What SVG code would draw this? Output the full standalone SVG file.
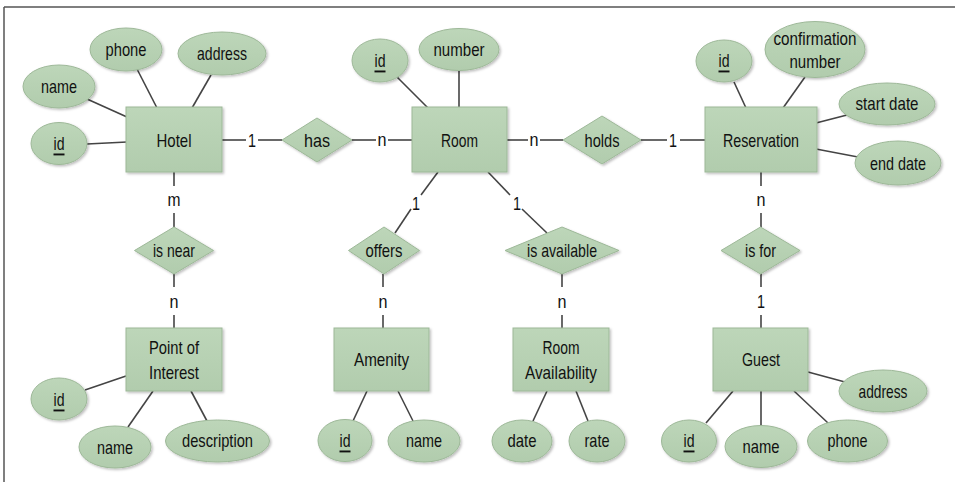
<svg xmlns="http://www.w3.org/2000/svg" width="955" height="482" viewBox="0 0 955 482">
<defs>
<linearGradient id="g" x1="0" y1="0" x2="0" y2="1">
<stop offset="0" stop-color="#bdd6b9"/>
<stop offset="1" stop-color="#b1ccad"/>
</linearGradient>
<filter id="sh" x="-10%" y="-10%" width="130%" height="130%">
<feDropShadow dx="1.5" dy="1.5" stdDeviation="1" flood-color="#000" flood-opacity="0.25"/>
</filter>
<style>
.e,.r,.d{fill:url(#g);stroke:#9db898;stroke-width:1;filter:url(#sh)}
.c line{stroke:#444;stroke-width:1.6}
text{font-family:"Liberation Sans",Arial,sans-serif;font-size:19px;fill:#111;text-anchor:middle;dominant-baseline:central}
.u{text-decoration:underline}
</style>
</defs>
<rect width="955" height="482" fill="#fff"/>
<g id="frame" stroke="#555" stroke-width="1.5" fill="none">
<line x1="4" y1="7" x2="955" y2="7"/>
<line x1="4" y1="7" x2="4" y2="482"/>
</g>
<g class="c" id="connectors">
<line x1="222" y1="140" x2="246" y2="140"/><line x1="258" y1="140" x2="282" y2="140"/>
<line x1="352" y1="140" x2="376" y2="140"/><line x1="388" y1="140" x2="412" y2="140"/>
<line x1="507" y1="140" x2="528" y2="140"/><line x1="540" y1="140" x2="563" y2="140"/>
<line x1="641" y1="140" x2="667" y2="140"/><line x1="680" y1="140" x2="705" y2="140"/>
<line x1="174" y1="172" x2="174" y2="186"/><line x1="174" y1="213" x2="174" y2="227"/>
<line x1="174" y1="274" x2="174" y2="287"/><line x1="174" y1="315" x2="174" y2="328"/>
<line x1="761" y1="172" x2="761" y2="186"/><line x1="761" y1="213" x2="761" y2="227"/>
<line x1="761" y1="274" x2="761" y2="287"/><line x1="761" y1="315" x2="761" y2="328"/>
<line x1="383" y1="274" x2="383" y2="287"/><line x1="383" y1="315" x2="383" y2="328"/>
<line x1="562" y1="274" x2="562" y2="287"/><line x1="562" y1="315" x2="562" y2="328"/>
<line x1="438" y1="172" x2="421" y2="195"/><line x1="411" y1="209" x2="395" y2="233"/>
<line x1="488" y1="172" x2="510" y2="195"/><line x1="522" y1="209" x2="547" y2="233"/>
<line x1="137" y1="69" x2="157" y2="108"/>
<line x1="211" y1="75" x2="192" y2="108"/>
<line x1="87" y1="99" x2="127" y2="117"/>
<line x1="87" y1="144" x2="127" y2="142"/>
<line x1="397" y1="77" x2="428" y2="108"/>
<line x1="459" y1="71" x2="459" y2="107"/>
<line x1="734" y1="82" x2="746" y2="108"/>
<line x1="805" y1="77" x2="783" y2="108"/>
<line x1="816" y1="123" x2="847" y2="115"/>
<line x1="816" y1="149" x2="858" y2="157"/>
<line x1="85" y1="390" x2="126" y2="376"/>
<line x1="128" y1="427" x2="153" y2="391"/>
<line x1="207" y1="421" x2="191" y2="391"/>
<line x1="353" y1="421" x2="367" y2="391"/>
<line x1="413" y1="421" x2="398" y2="391"/>
<line x1="533" y1="421" x2="547" y2="391"/>
<line x1="588" y1="421" x2="576" y2="391"/>
<line x1="808" y1="372" x2="845" y2="382"/>
<line x1="706" y1="423" x2="733" y2="391"/>
<line x1="761" y1="391" x2="761" y2="426"/>
<line x1="828" y1="423" x2="794" y2="391"/>
</g>
<g id="labels">
<text x="252" y="140" textLength="8" lengthAdjust="spacingAndGlyphs">1</text>
<text x="382" y="139" textLength="9" lengthAdjust="spacingAndGlyphs">n</text>
<text x="534" y="139" textLength="9" lengthAdjust="spacingAndGlyphs">n</text>
<text x="673" y="140" textLength="8" lengthAdjust="spacingAndGlyphs">1</text>
<text x="174" y="199" textLength="13" lengthAdjust="spacingAndGlyphs">m</text>
<text x="174" y="301" textLength="9" lengthAdjust="spacingAndGlyphs">n</text>
<text x="416" y="203" textLength="8" lengthAdjust="spacingAndGlyphs">1</text>
<text x="517" y="203" textLength="8" lengthAdjust="spacingAndGlyphs">1</text>
<text x="383" y="301" textLength="9" lengthAdjust="spacingAndGlyphs">n</text>
<text x="562" y="301" textLength="9" lengthAdjust="spacingAndGlyphs">n</text>
<text x="761" y="199" textLength="9" lengthAdjust="spacingAndGlyphs">n</text>
<text x="761" y="301" textLength="8" lengthAdjust="spacingAndGlyphs">1</text>
</g>
<g id="hotel"><rect class="r" x="126" y="107" width="96" height="65"/><text x="174" y="140" textLength="35" lengthAdjust="spacingAndGlyphs">Hotel</text></g>
<g id="hotel-phone"><ellipse class="e" cx="126" cy="49.5" rx="36" ry="21.5"/><text x="126" y="49" textLength="41" lengthAdjust="spacingAndGlyphs">phone</text></g>
<g id="hotel-address"><ellipse class="e" cx="222" cy="53.5" rx="44" ry="21.5"/><text x="222" y="53" textLength="50" lengthAdjust="spacingAndGlyphs">address</text></g>
<g id="hotel-name"><ellipse class="e" cx="59" cy="86.5" rx="36" ry="21.5"/><text x="59" y="86" textLength="36" lengthAdjust="spacingAndGlyphs">name</text></g>
<g id="hotel-id"><ellipse class="e" cx="59" cy="143.5" rx="28" ry="21"/><text class="u" x="59" y="143" textLength="11" lengthAdjust="spacingAndGlyphs">id</text></g>
<g id="has"><polygon class="d" points="282,140 317,118 352,140 317,162"/><text x="317" y="140" textLength="26" lengthAdjust="spacingAndGlyphs">has</text></g>
<g id="room"><rect class="r" x="412" y="107" width="95" height="65"/><text x="459.5" y="140" textLength="37" lengthAdjust="spacingAndGlyphs">Room</text></g>
<g id="room-id"><ellipse class="e" cx="380" cy="60.5" rx="28" ry="21.5"/><text class="u" x="380" y="60" textLength="11" lengthAdjust="spacingAndGlyphs">id</text></g>
<g id="room-number"><ellipse class="e" cx="459" cy="49.5" rx="40" ry="21"/><text x="459" y="49" textLength="51" lengthAdjust="spacingAndGlyphs">number</text></g>
<g id="holds"><polygon class="d" points="563,140 602,116 641,140 602,164"/><text x="602" y="140" textLength="35" lengthAdjust="spacingAndGlyphs">holds</text></g>
<g id="reservation"><rect class="r" x="705" y="107" width="112" height="65"/><text x="761" y="140" textLength="76" lengthAdjust="spacingAndGlyphs">Reservation</text></g>
<g id="res-id"><ellipse class="e" cx="724" cy="61" rx="28" ry="21"/><text class="u" x="724" y="60" textLength="11" lengthAdjust="spacingAndGlyphs">id</text></g>
<g id="res-confirmation"><ellipse class="e" cx="815" cy="49.5" rx="50" ry="28"/><text x="815" y="38" textLength="83" lengthAdjust="spacingAndGlyphs">confirmation</text><text x="815" y="61.5" textLength="51" lengthAdjust="spacingAndGlyphs">number</text></g>
<g id="res-start"><ellipse class="e" cx="887" cy="104" rx="48" ry="21"/><text x="887" y="103" textLength="63" lengthAdjust="spacingAndGlyphs">start date</text></g>
<g id="res-end"><ellipse class="e" cx="898" cy="163" rx="43" ry="22"/><text x="898" y="163" textLength="56" lengthAdjust="spacingAndGlyphs">end date</text></g>
<g id="is-near"><polygon class="d" points="134.5,250.5 174,227 213.5,250.5 174,274"/><text x="174" y="250" textLength="42" lengthAdjust="spacingAndGlyphs">is near</text></g>
<g id="poi"><rect class="r" x="126" y="328" width="96" height="63"/><text x="174" y="347" textLength="50" lengthAdjust="spacingAndGlyphs">Point of</text><text x="174" y="372" textLength="50" lengthAdjust="spacingAndGlyphs">Interest</text></g>
<g id="poi-id"><ellipse class="e" cx="59" cy="399" rx="28" ry="21"/><text class="u" x="59" y="399" textLength="11" lengthAdjust="spacingAndGlyphs">id</text></g>
<g id="poi-name"><ellipse class="e" cx="115" cy="447" rx="36" ry="21"/><text x="115" y="447" textLength="36" lengthAdjust="spacingAndGlyphs">name</text></g>
<g id="poi-description"><ellipse class="e" cx="217.5" cy="441" rx="52" ry="21"/><text x="217.5" y="440" textLength="71" lengthAdjust="spacingAndGlyphs">description</text></g>
<g id="offers"><polygon class="d" points="348.5,250.5 384,227 419.5,250.5 384,274"/><text x="384" y="250" textLength="37" lengthAdjust="spacingAndGlyphs">offers</text></g>
<g id="amenity"><rect class="r" x="334" y="328" width="95" height="63"/><text x="381.5" y="359" textLength="55" lengthAdjust="spacingAndGlyphs">Amenity</text></g>
<g id="amenity-id"><ellipse class="e" cx="345" cy="440.5" rx="27" ry="21"/><text class="u" x="345" y="440" textLength="11" lengthAdjust="spacingAndGlyphs">id</text></g>
<g id="amenity-name"><ellipse class="e" cx="424" cy="441" rx="36" ry="21"/><text x="424" y="440" textLength="36" lengthAdjust="spacingAndGlyphs">name</text></g>
<g id="is-available"><polygon class="d" points="505,250.5 562,227 619,250.5 562,274"/><text x="562" y="250" textLength="70" lengthAdjust="spacingAndGlyphs">is available</text></g>
<g id="room-availability"><rect class="r" x="513" y="328" width="96" height="63"/><text x="561" y="347" textLength="37" lengthAdjust="spacingAndGlyphs">Room</text><text x="561" y="372" textLength="72" lengthAdjust="spacingAndGlyphs">Availability</text></g>
<g id="ra-date"><ellipse class="e" cx="522" cy="441" rx="30" ry="21"/><text x="522" y="440" textLength="29" lengthAdjust="spacingAndGlyphs">date</text></g>
<g id="ra-rate"><ellipse class="e" cx="597" cy="441" rx="28" ry="21"/><text x="597" y="440" textLength="25" lengthAdjust="spacingAndGlyphs">rate</text></g>
<g id="is-for"><polygon class="d" points="721,250.5 760.5,227 800,250.5 760.5,274"/><text x="760.5" y="250" textLength="31" lengthAdjust="spacingAndGlyphs">is for</text></g>
<g id="guest"><rect class="r" x="713" y="328" width="95" height="63"/><text x="761" y="359" textLength="38" lengthAdjust="spacingAndGlyphs">Guest</text></g>
<g id="guest-address"><ellipse class="e" cx="883" cy="391" rx="44" ry="21"/><text x="883" y="391" textLength="49" lengthAdjust="spacingAndGlyphs">address</text></g>
<g id="guest-id"><ellipse class="e" cx="689" cy="441" rx="27.5" ry="21"/><text class="u" x="689" y="440" textLength="11" lengthAdjust="spacingAndGlyphs">id</text></g>
<g id="guest-name"><ellipse class="e" cx="761" cy="446.5" rx="36" ry="21"/><text x="761" y="446" textLength="37" lengthAdjust="spacingAndGlyphs">name</text></g>
<g id="guest-phone"><ellipse class="e" cx="847.5" cy="441" rx="40" ry="21"/><text x="847.5" y="440" textLength="40" lengthAdjust="spacingAndGlyphs">phone</text></g>
</svg>
